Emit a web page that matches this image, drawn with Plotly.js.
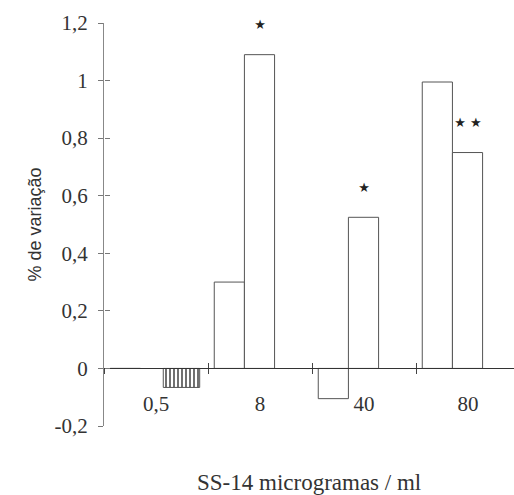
<!DOCTYPE html>
<html>
<head>
<meta charset="utf-8">
<script src="https://cdn.plot.ly/plotly-3.0.1.min.js"></script>
<style>html,body{margin:0;padding:0;background:#fff}#chart{width:514px;height:495px}</style>
</head>
<body>
<div id="chart"></div>
<script>
// ---- data ----
const categories = ["0,5", "8", "40", "80"];
const seriesA = [0, 0.30, -0.105, 0.995];   // left bars
const seriesB = [-0.066, 1.09, 0.525, 0.75]; // right bars
const significance = [0, 1, 1, 2];          // number of stars over right bar
const yTickVals = [-0.2, 0, 0.2, 0.4, 0.6, 0.8, 1, 1.2];
const yTickText = ["-0,2", "0", "0,2", "0,4", "0,6", "0,8", "1", "1,2"];

// ---- styles ----
const serif = "Liberation Serif, Times New Roman, serif";
const barLine = {color: "#555", width: 1};
const offsetsB = [0.07, -0.15, -0.15, -0.15];
const widthsB = [0.35, 0.29, 0.29, 0.29];
const starGap = 0.1;

const starX = [], starY = [], starText = [];
significance.forEach((n, i) => {
  if (n > 0) {
    starX.push(categories[i]);
    starY.push(seriesB[i] + starGap);
    starText.push(Array(n).fill("★").join(" "));
  }
});

const traces = [
  {type: "bar", x: categories, y: seriesA, offset: -0.44, width: 0.29,
   marker: {color: "#fff", line: barLine}, hoverinfo: "none"},
  {type: "bar", x: categories, y: seriesB, offset: offsetsB, width: widthsB,
   marker: {color: "#fff", line: barLine,
            pattern: {shape: ["|", "", "", ""], size: 4, solidity: 0.35, fgcolor: "#333", bgcolor: "#fff"}},
   hoverinfo: "none"},
  {type: "scatter", mode: "text", x: starX, y: starY, text: starText, textposition: "middle center",
   textfont: {family: "DejaVu Sans", size: 13, color: "#222"}, hoverinfo: "none", cliponaxis: false},
  {type: "scatter", mode: "none", x: categories, y: [0, 0, 0, 0], xaxis: "x2", yaxis: "y2", hoverinfo: "none"}
];

const yzero = 0.2 / 1.4;
const xRange = [-0.5, 3.442];
const yRange = [-0.2, 1.2];

const layout = {
  width: 514, height: 495,
  margin: {l: 104, r: 0, t: 23, b: 69},
  paper_bgcolor: "#fff", plot_bgcolor: "#fff",
  showlegend: false, barmode: "overlay",
  xaxis: {type: "category", categoryarray: categories, range: xRange,
    anchor: "free", position: yzero, tickson: "boundaries",
    ticks: "outside", ticklen: 5, tickcolor: "#444", showline: true, linecolor: "#333", linewidth: 1,
    showgrid: false, zeroline: false, ticklabelstandoff: 16,
    tickfont: {family: serif, size: 21, color: "#333"}},
  xaxis2: {type: "category", categoryarray: categories, range: xRange, overlaying: "x",
    anchor: "free", position: yzero, tickson: "boundaries",
    ticks: "inside", ticklen: 5, tickcolor: "#444", showline: false, showgrid: false, zeroline: false,
    showticklabels: false},
  yaxis: {range: yRange, tickvals: yTickVals, ticktext: yTickText,
    ticks: "outside", ticklen: 5, tickcolor: "#777", showline: true, linecolor: "#888", linewidth: 1,
    showgrid: false, zeroline: false, ticklabelstandoff: 6,
    tickfont: {family: serif, size: 21, color: "#333"},
    title: {text: "% de variação", standoff: 8, font: {family: "Liberation Sans, Arial, sans-serif", size: 18, color: "#333"}}},
  yaxis2: {range: yRange, tickvals: yTickVals, overlaying: "y", anchor: "free", position: 0, side: "left",
    ticks: "inside", ticklen: 5, tickcolor: "#777", showline: false, showgrid: false, zeroline: false,
    showticklabels: false},
  annotations: [{x: 0.5, y: (495 - 69 - 482) / 403, xref: "paper", yref: "paper", yanchor: "middle",
    text: "SS-14 microgramas / ml", showarrow: false, font: {family: serif, size: 23, color: "#333"}}]
};

Plotly.newPlot("chart", traces, layout, {staticPlot: true});
</script>
</body>
</html>
